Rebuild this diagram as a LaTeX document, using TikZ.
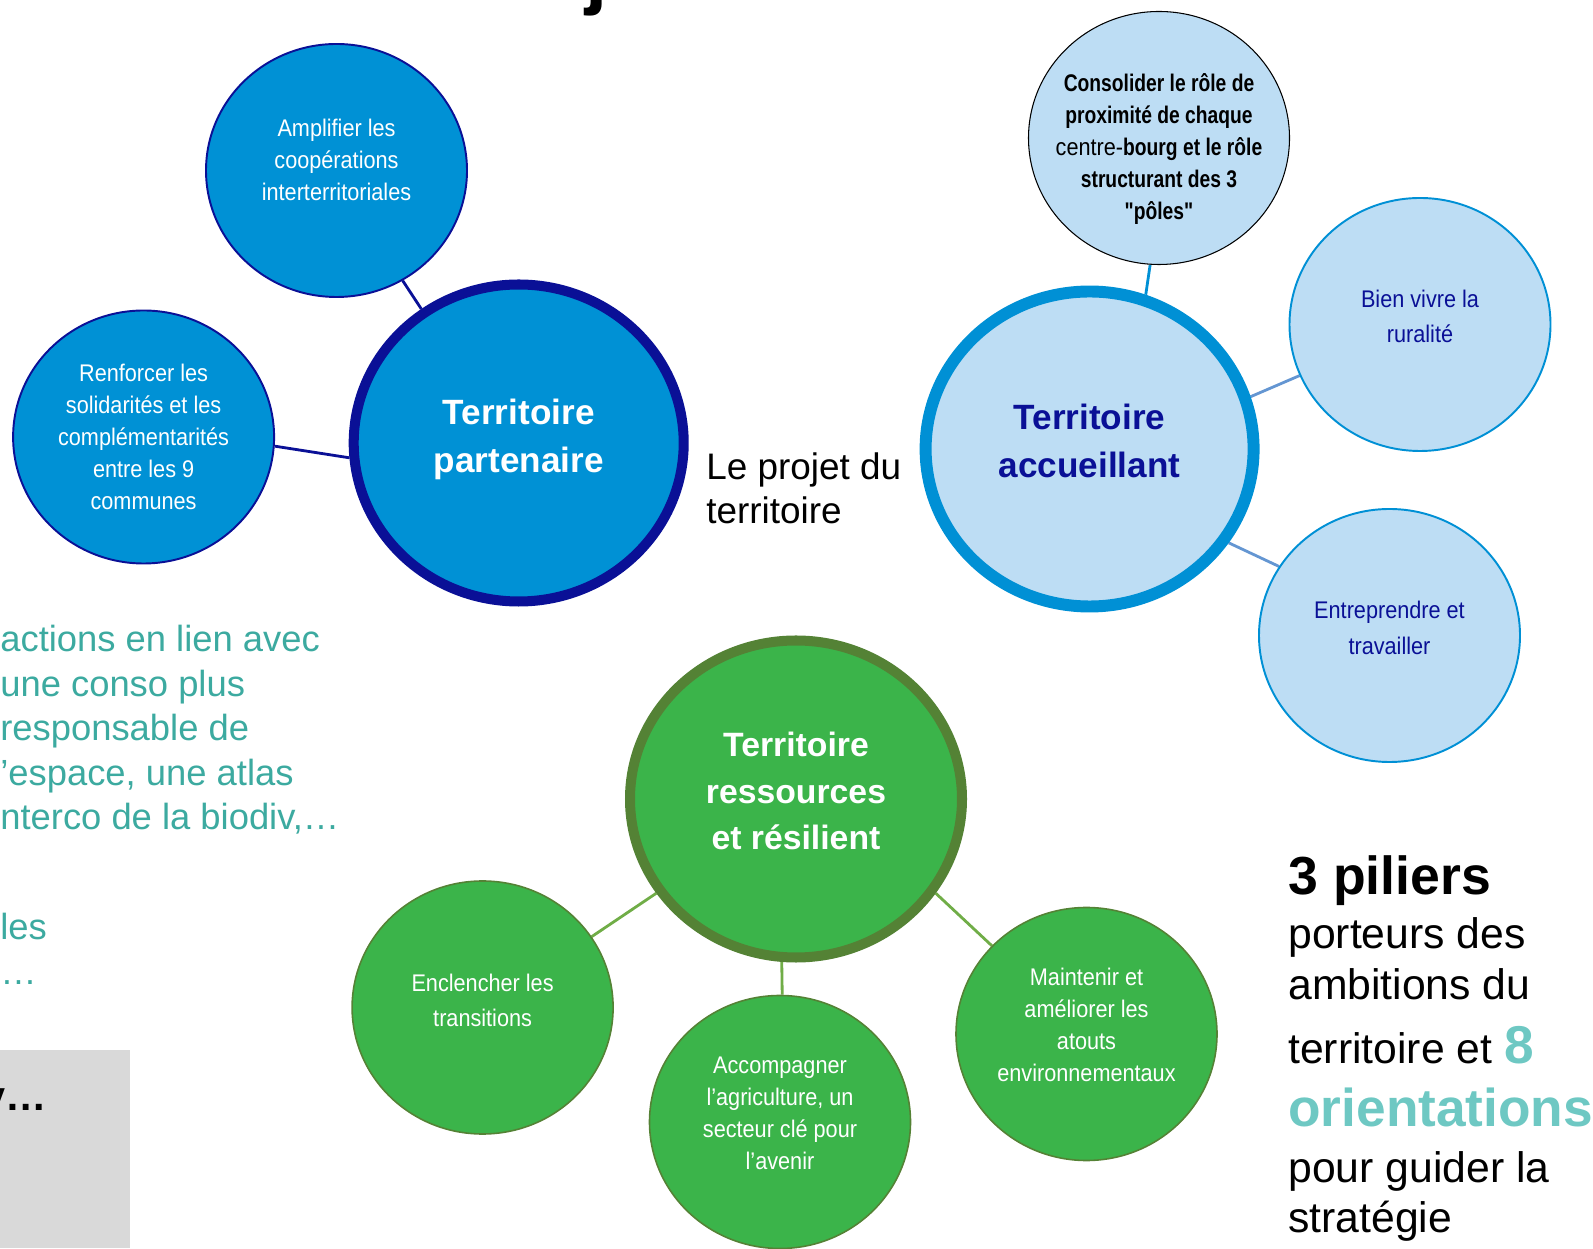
\documentclass[tikz,border=0pt]{standalone}
\usepackage{fontspec}
\setmainfont{Liberation Sans}
\newfontfamily\etroit[FakeStretch=0.9]{Liberation Sans}
\newfontfamily\etroitgras[FakeStretch=0.8]{Liberation Sans}
\usetikzlibrary{shapes}
\pgfdeclarelayer{bg}
\pgfsetlayers{bg,main}
\def\gprgb#1#2#3{rgb,255:red,#1;green,#2;blue,#3}
\tikzset{
  pilier/.style={shape=ellipse,inner sep=0pt,minimum width=6.6cm,minimum height=6.34cm},
  orient/.style={shape=ellipse,inner sep=0pt,minimum width=5.22cm,minimum height=5.06cm},
  txtpilier/.style={inner sep=0pt,align=center,font=\bfseries\fontsize{20pt}{27.3pt}\selectfont},
  txtorient/.style={inner sep=0pt,align=center,font=\etroit\fontsize{13.7pt}{18.2pt}\selectfont},
  bleuplein/.style={fill=\gprgb{0}{145}{213},draw=\gprgb{10}{16}{150}},
  bleuclair/.style={fill=\gprgb{189}{221}{244},draw=\gprgb{0}{144}{213}},
  vertplein/.style={fill=\gprgb{59}{180}{74},draw=\gprgb{84}{130}{53}},
  texte/.style={anchor=north west,inner sep=0pt,align=left},
  lienmarine/.style={color=\gprgb{10}{16}{150},line width=1.6pt},
  lienbleu/.style={color=\gprgb{0}{144}{213},line width=1.6pt},
  lienacier/.style={color=\gprgb{100}{150}{210},line width=1.6pt},
  lienvert/.style={color=\gprgb{112}{173}{71},line width=1.6pt}
}

\begin{document}
\begin{tikzpicture}
\useasboundingbox (0,0) rectangle (31.86,24.96);
\clip (0,0) rectangle (31.86,24.96);

% Put legends if any...
\node (titre) at (11.70,24.96) [anchor=base west,inner sep=0pt,font=\bfseries\fontsize{45.5pt}{45.5pt}\selectfont] {j};
\node (projet) at (14.12,15.92) [texte,font=\fontsize{21pt}{25pt}\selectfont] {Le projet du\\territoire};
\node (actions) at (0.00,12.46) [texte,text=\gprgb{60}{170}{160},font=\fontsize{20.7pt}{25.3pt}\selectfont] {actions en lien avec\\une conso plus\\responsable de\\’espace, une atlas\\nterco de la biodiv,…};
\node (suite) at (0.00,6.70) [texte,text=\gprgb{60}{170}{160},font=\fontsize{20.7pt}{25.6pt}\selectfont] {les\\…};
\node (encart) at (0.00,0.00) [anchor=south west,inner sep=0pt,minimum width=2.6cm,minimum height=3.96cm,fill=\gprgb{217}{217}{217}] {};
\node (encarttxt) at (-0.36,2.76) [anchor=base west,inner sep=0pt,font=\bfseries\fontsize{23.5pt}{23.5pt}\selectfont] {v…};
\node (piliers) at (25.76,7.86) [texte,font=\fontsize{24.3pt}{29pt}\selectfont] {{\bfseries\fontsize{30.5pt}{30.5pt}\selectfont 3 piliers}\\[1.7pt]porteurs des\\ambitions du\\[7.8pt]territoire et {\bfseries\fontsize{30.3pt}{30.3pt}\selectfont\color{\gprgb{110}{200}{195}}8}\\[6.5pt]{\bfseries\fontsize{30.3pt}{30.3pt}\selectfont\color{\gprgb{110}{200}{195}}orientations}\\[2.8pt]pour guider la\\stratégie};

% Draw the nodes...
\node (part) at (10.374,16.10) [pilier,bleuplein,line width=5.7pt] {};
\node (accu) at (21.792,15.98) [pilier,bleuclair,line width=6.8pt,minimum width=6.56cm,minimum height=6.30cm] {};
\node (ress) at (15.92,8.98) [pilier,vertplein,line width=5.7pt,minimum width=6.64cm] {};
\node (partt) at ([yshift=0.07cm]part.center) [txtpilier,text=white] {Territoire\\partenaire};
\node (accut) at ([yshift=0.16cm]accu.center) [txtpilier,text=\gprgb{10}{16}{150}] {Territoire\\accueillant};
\node (resst) at ([yshift=0.16cm]ress.center) [txtpilier,text=white,font=\bfseries\fontsize{19.2pt}{26.6pt}\selectfont] {Territoire\\ressources\\et résilient};

\node (ampl) at (6.73,21.55) [orient,bleuplein,line width=1.1pt] {};
\node (renf) at (2.872,16.22) [orient,bleuplein,line width=1.1pt] {};
\node (cons) at (23.18,22.20) [orient,bleuclair,draw=black,line width=0.6pt] {};
\node (bien) at (28.40,18.47) [orient,bleuclair,line width=1.1pt] {};
\node (entr) at (27.79,12.25) [orient,bleuclair,line width=1.1pt] {};
\node (encl) at (9.652,4.81) [orient,vertplein,line width=0.9pt] {};
\node (acco) at (15.60,2.52) [orient,vertplein,line width=0.9pt] {};
\node (main) at (21.73,4.28) [orient,vertplein,line width=0.9pt] {};

\node (amplt) at ([yshift=0.22cm]ampl.center) [txtorient,text=white] {Amplifier les\\coopérations\\interterritoriales};
\node (renft) at (renf.center) [txtorient,text=white] {Renforcer les\\solidarités et les\\complémentarités\\entre les 9\\communes};
\node (const) at ([yshift=-0.22cm]cons.center) [txtorient,text=black,font=\etroitgras\bfseries\fontsize{13.7pt}{18.2pt}\selectfont] {Consolider le rôle de\\proximité de chaque\\{\etroit\mdseries centre-}bourg et le rôle\\structurant des 3\\"pôles"};
\node (bient) at ([yshift=0.16cm]bien.center) [txtorient,text=\gprgb{10}{16}{150},font=\etroit\fontsize{13.7pt}{19.8pt}\selectfont] {Bien vivre la\\ruralité};
\node (entrt) at ([yshift=0.16cm]entr.center) [txtorient,text=\gprgb{10}{16}{150},font=\etroit\fontsize{13.7pt}{20.4pt}\selectfont] {Entreprendre et\\travailler};
\node (enclt) at ([yshift=0.14cm]encl.center) [txtorient,text=white,font=\etroit\fontsize{13.7pt}{19.8pt}\selectfont] {Enclencher les\\transitions};
\node (accot) at ([yshift=0.18cm]acco.center) [txtorient,text=white] {Accompagner\\l’agriculture, un\\secteur clé pour\\l’avenir};
\node (maint) at ([yshift=0.19cm]main.center) [txtorient,text=white] {Maintenir et\\améliorer les\\atouts\\environnementaux};


% Draw the edges...
\begin{pgfonlayer}{bg}
\draw (ampl.-59) edge[lienmarine] (part.126);
\draw (renf.-4) edge[lienmarine] (part.185);
\draw (cons.-94) edge[lienbleu] (accu.70);
\draw (bien.-157) edge[lienacier] (accu.18);
\draw (entr.148) edge[lienacier] (accu.-34);
\draw (encl.33) edge[lienvert] (ress.-146);
\draw (acco.89) edge[lienvert] (ress.-95);
\draw (main.137) edge[lienvert] (ress.-34);

\end{pgfonlayer}

\end{tikzpicture}
\end{document}
